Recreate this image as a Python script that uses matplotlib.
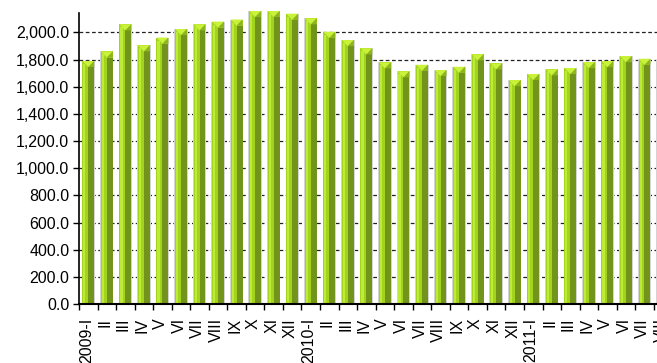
import matplotlib.pyplot as plt
import matplotlib.transforms as mtransforms
import numpy as np
from matplotlib.ticker import FuncFormatter, MultipleLocator

plt.rcParams['font.family'] = ['Liberation Sans', 'DejaVu Sans']

# monthly values
months = ["I", "II", "III", "IV", "V", "VI", "VII", "VIII", "IX", "X", "XI", "XII"]
values_2009 = [1790, 1860, 2060, 1905, 1962, 2025, 2060, 2080, 2095, 2158, 2158, 2138]
values_2010 = [2104, 2005, 1944, 1883, 1780, 1714, 1762, 1723, 1747, 1839, 1772, 1649]
values_2011 = [1694, 1728, 1738, 1782, 1789, 1826, 1806, 1797]

labels = (["2009-" + m if i == 0 else m for i, m in enumerate(months)]
          + ["2010-" + m if i == 0 else m for i, m in enumerate(months)]
          + ["2011-" + m if i == 0 else m for i, m in enumerate(months[:len(values_2011)])])
values = np.array(values_2009 + values_2010 + values_2011, dtype=float)
x = np.arange(len(values))

fig = plt.figure(figsize=(6.57, 3.63), dpi=100)
# axes runs past the right edge like the cropped original
ax = fig.add_axes([79 / 657, 59 / 363, 593.3 / 657, 291 / 363])

w = 0.64
bevel = 45.0

# outline / shadow
ax.bar(x, values, width=w + 0.08, color='#d4d4d4', zorder=2, clip_on=False)
# main face
ax.bar(x, values, width=w, color='#a2d41e', zorder=3, clip_on=False)
# left highlight
ax.bar(x - w * 0.33, values - bevel * 0.5, width=w * 0.18, color='#bceb38', zorder=4, clip_on=False)
# darker right side
ax.bar(x + w * 0.25, values - bevel, width=w * 0.5, color='#72941b', zorder=4, clip_on=False)
# top bevel
for xi, v in zip(x, values):
    ax.fill([xi - w / 2, xi + w / 2, xi], [v, v, v - bevel], color='#cbf23a',
            zorder=5, clip_on=False, lw=0)
    ax.fill([xi, xi + w / 2, xi + w / 2], [v - bevel, v, v - bevel], color='#8db61e',
            zorder=5, clip_on=False, lw=0)

ax.set_xlim(-0.5, len(values) - 0.5)
ax.set_ylim(0, 2143)
ax.yaxis.set_major_locator(MultipleLocator(200))
ax.yaxis.set_major_formatter(FuncFormatter(lambda v, p: f'{v:,.1f}'))
ax.yaxis.grid(True, color='#222222', linestyle=(0, (3, 2)), linewidth=0.9, zorder=1)
ax.set_axisbelow(True)

ax.set_xticks(x)
ax.set_xticklabels(labels, rotation=90, va='top', ha='center')
ax.set_xticks(np.arange(-0.5, len(values), 1), minor=True)
ax.tick_params(axis='x', which='major', length=0, pad=10, labelsize=11.5)
ax.tick_params(axis='x', which='minor', length=4, width=1, direction='out')
ax.tick_params(axis='y', length=4, width=1, direction='out', labelsize=11.5, pad=3)

# labels sit a touch left of the bar centres in the original
shift = mtransforms.ScaledTranslation(-2 / 100, 0, fig.dpi_scale_trans)
for lab in ax.get_xticklabels():
    lab.set_transform(lab.get_transform() + shift)

for s in ['top', 'right']:
    ax.spines[s].set_visible(False)
ax.spines['left'].set_linewidth(1.2)
ax.spines['bottom'].set_linewidth(1.5)
ax.spines['bottom'].set_zorder(6)

fig.savefig('out.png', dpi=100)
